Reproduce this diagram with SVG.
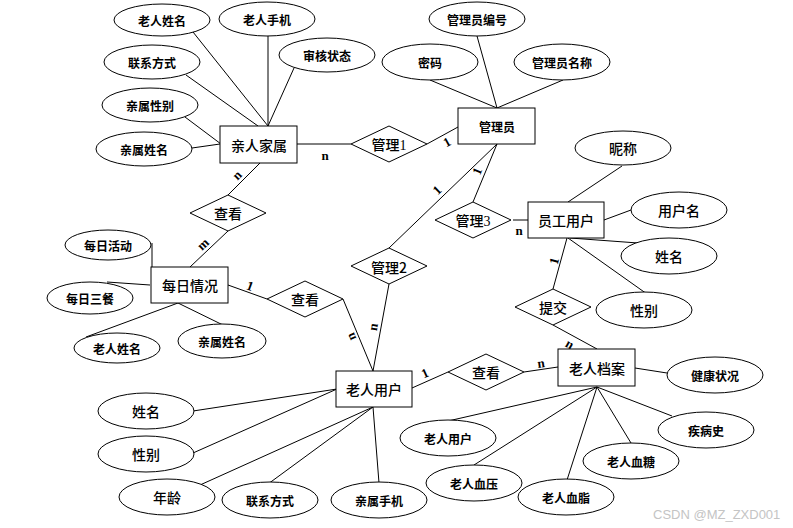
<svg xmlns="http://www.w3.org/2000/svg" width="793" height="528" viewBox="0 0 793 528">
<style>
  .shape { fill: #ffffff; stroke: #000000; stroke-width: 1; }
  .rel { fill: #ffffff; stroke: #000000; stroke-width: 1; }
  .conn line { stroke: #000000; stroke-width: 1; }
  text { fill: #000000; text-anchor: middle; dominant-baseline: central; }
  .attr { font-family: "Noto Sans CJK SC", "Liberation Sans", sans-serif; font-size: 12px; font-weight: bold; }
  .ent { font-family: "Noto Sans CJK SC", "Liberation Sans", sans-serif; font-size: 14px; font-weight: 500; }
  .relt { font-family: "Liberation Serif", "Noto Sans CJK SC", serif; font-size: 14px; font-weight: 500; }
  .card { font-family: "Liberation Serif", serif; font-size: 13px; font-weight: bold; }
  .wm { font-family: "Liberation Sans", sans-serif; font-size: 13px; fill: #c4c4c4; text-anchor: start; }
</style>
<rect width="793" height="528" fill="#ffffff"/>

<g id="connectors" class="conn">
  <line x1="193" y1="32" x2="268" y2="126"/>
  <line x1="268" y1="36" x2="268" y2="126"/>
  <line x1="294" y1="68" x2="268" y2="126"/>
  <line x1="186" y1="75" x2="258" y2="126"/>
  <line x1="185" y1="117" x2="221" y2="144"/>
  <line x1="192" y1="148" x2="220" y2="144"/>
  <line x1="297" y1="144" x2="351" y2="144"/>
  <line x1="260" y1="163" x2="228" y2="195"/>
  <line x1="477" y1="36" x2="497" y2="108"/>
  <line x1="430" y1="80" x2="497" y2="108"/>
  <line x1="563" y1="80" x2="497" y2="108"/>
  <line x1="427" y1="144" x2="458" y2="127"/>
  <line x1="497" y1="144" x2="473" y2="202"/>
  <line x1="497" y1="144" x2="389" y2="248"/>
  <line x1="513" y1="220" x2="528" y2="220"/>
  <line x1="568" y1="202" x2="622" y2="166"/>
  <line x1="604" y1="220" x2="631" y2="210"/>
  <line x1="570" y1="238" x2="638" y2="243"/>
  <line x1="568" y1="238" x2="647" y2="294"/>
  <line x1="567" y1="238" x2="553" y2="289"/>
  <line x1="553" y1="325" x2="597" y2="349"/>
  <line x1="228" y1="231" x2="190" y2="267"/>
  <line x1="152" y1="243" x2="152" y2="267"/>
  <line x1="107" y1="282" x2="150" y2="285"/>
  <line x1="86" y1="337" x2="178" y2="303"/>
  <line x1="178" y1="303" x2="225" y2="326"/>
  <line x1="228" y1="285" x2="267" y2="299"/>
  <line x1="343" y1="299" x2="373" y2="371"/>
  <line x1="389" y1="284" x2="373" y2="371"/>
  <line x1="193" y1="411" x2="337" y2="389"/>
  <line x1="193" y1="453" x2="337" y2="389"/>
  <line x1="200" y1="485" x2="373" y2="407"/>
  <line x1="268" y1="484" x2="373" y2="407"/>
  <line x1="379" y1="483" x2="373" y2="407"/>
  <line x1="412" y1="388" x2="448" y2="372"/>
  <line x1="524" y1="372" x2="558" y2="367"/>
  <line x1="635" y1="368" x2="667" y2="373"/>
  <line x1="597" y1="387" x2="672" y2="416"/>
  <line x1="597" y1="387" x2="631" y2="443"/>
  <line x1="597" y1="387" x2="567" y2="480"/>
  <line x1="597" y1="387" x2="474" y2="465"/>
  <line x1="597" y1="387" x2="448" y2="421"/>
  <g id="cardinalities">
    <text class="card" x="325" y="155">n</text>
    <text class="card" x="237" y="175" transform="rotate(-45 237 175)">n</text>
    <text class="card" x="203" y="244" transform="rotate(-43 203 244)">m</text>
    <text class="card" x="250" y="286" transform="rotate(20 250 286)">1</text>
    <text class="card" x="447" y="142" transform="rotate(-29 447 142)">1</text>
    <text class="card" x="477" y="171" transform="rotate(-68 477 171)">1</text>
    <text class="card" x="437" y="190" transform="rotate(-44 437 190)">1</text>
    <text class="card" x="519" y="230">n</text>
    <text class="card" x="554" y="261" transform="rotate(-75 554 261)">1</text>
    <text class="card" x="570" y="344" transform="rotate(30 570 344)">n</text>
    <text class="card" x="541" y="363" transform="rotate(-8 541 363)">n</text>
    <text class="card" x="425" y="373" transform="rotate(-24 425 373)">1</text>
    <text class="card" x="351" y="337" transform="rotate(-113 351 337)">n</text>
    <text class="card" x="373" y="327" transform="rotate(-80 373 327)">n</text>
  </g>
</g>

<g id="e-qinren">
  <rect class="shape" x="220" y="126" width="77" height="37"/>
  <text class="ent" x="259" y="145">亲人家属</text>
</g>
<g id="a-qr-laorenxingming"><ellipse class="shape" cx="162" cy="20" rx="48" ry="16"/><text class="attr" x="162" y="20">老人姓名</text></g>
<g id="a-qr-laorenshouji"><ellipse class="shape" cx="267" cy="19" rx="48" ry="17"/><text class="attr" x="267" y="19">老人手机</text></g>
<g id="a-qr-shenhe"><ellipse class="shape" cx="327" cy="55" rx="48" ry="17"/><text class="attr" x="327" y="55">审核状态</text></g>
<g id="a-qr-lianxi"><ellipse class="shape" cx="152" cy="62" rx="48" ry="17"/><text class="attr" x="152" y="62">联系方式</text></g>
<g id="a-qr-qinshuxingbie"><ellipse class="shape" cx="150" cy="105" rx="48" ry="17"/><text class="attr" x="150" y="105">亲属性别</text></g>
<g id="a-qr-qinshuxingming"><ellipse class="shape" cx="144" cy="149" rx="48" ry="17"/><text class="attr" x="144" y="149">亲属姓名</text></g>

<g id="e-admin">
  <rect class="shape" x="458" y="108" width="77" height="36"/>
  <text class="attr" x="497" y="126">管理员</text>
</g>
<g id="a-ad-bianhao"><ellipse class="shape" cx="477" cy="19" rx="48" ry="17"/><text class="attr" x="477" y="19">管理员编号</text></g>
<g id="a-ad-mima"><ellipse class="shape" cx="430" cy="62" rx="48" ry="18"/><text class="attr" x="430" y="62">密码</text></g>
<g id="a-ad-mingcheng"><ellipse class="shape" cx="562" cy="62" rx="48" ry="18"/><text class="attr" x="562" y="62">管理员名称</text></g>

<g id="e-staff">
  <rect class="shape" x="528" y="202" width="76" height="36"/>
  <text class="ent" x="566" y="220">员工用户</text>
</g>
<g id="a-st-nicheng"><ellipse class="shape" cx="623" cy="148" rx="48" ry="17"/><text class="ent" x="623" y="148">昵称</text></g>
<g id="a-st-yonghuming"><ellipse class="shape" cx="679" cy="210" rx="48" ry="18"/><text class="ent" x="679" y="210">用户名</text></g>
<g id="a-st-xingming"><ellipse class="shape" cx="669" cy="256" rx="48" ry="18"/><text class="ent" x="669" y="256">姓名</text></g>
<g id="a-st-xingbie"><ellipse class="shape" cx="644" cy="310" rx="48" ry="18"/><text class="ent" x="644" y="310">性别</text></g>

<g id="e-daily">
  <rect class="shape" x="151" y="267" width="77" height="36"/>
  <text class="ent" x="190" y="285">每日情况</text>
</g>
<g id="a-dl-huodong"><ellipse class="shape" cx="108" cy="245" rx="43" ry="15"/><text class="attr" x="108" y="245">每日活动</text></g>
<g id="a-dl-sancan"><ellipse class="shape" cx="90" cy="298" rx="43" ry="16"/><text class="attr" x="90" y="298">每日三餐</text></g>
<g id="a-dl-laorenxingming"><ellipse class="shape" cx="117" cy="348" rx="43" ry="15"/><text class="attr" x="117" y="348">老人姓名</text></g>
<g id="a-dl-qinshuxingming"><ellipse class="shape" cx="222" cy="341" rx="44" ry="17"/><text class="attr" x="222" y="341">亲属姓名</text></g>

<g id="e-elder">
  <rect class="shape" x="336" y="371" width="76" height="36"/>
  <text class="ent" x="374" y="389">老人用户</text>
</g>
<g id="a-el-xingming"><ellipse class="shape" cx="146" cy="411" rx="48" ry="18"/><text class="ent" x="146" y="411">姓名</text></g>
<g id="a-el-xingbie"><ellipse class="shape" cx="146" cy="454" rx="48" ry="18"/><text class="ent" x="146" y="454">性别</text></g>
<g id="a-el-nianling"><ellipse class="shape" cx="167" cy="497" rx="48" ry="18"/><text class="ent" x="167" y="497">年龄</text></g>
<g id="a-el-lianxi"><ellipse class="shape" cx="270" cy="500" rx="48" ry="18"/><text class="attr" x="270" y="500">联系方式</text></g>
<g id="a-el-qinshushouji"><ellipse class="shape" cx="379" cy="500" rx="48" ry="18"/><text class="attr" x="379" y="500">亲属手机</text></g>

<g id="e-record">
  <rect class="shape" x="558" y="349" width="77" height="37"/>
  <text class="ent" x="597" y="368">老人档案</text>
</g>
<g id="a-rc-jiankang"><ellipse class="shape" cx="715" cy="375" rx="48" ry="18"/><text class="attr" x="715" y="375">健康状况</text></g>
<g id="a-rc-jibing"><ellipse class="shape" cx="706" cy="430" rx="48" ry="18"/><text class="attr" x="706" y="430">疾病史</text></g>
<g id="a-rc-xuetang"><ellipse class="shape" cx="631" cy="461" rx="48" ry="18"/><text class="attr" x="631" y="461">老人血糖</text></g>
<g id="a-rc-xuezhi"><ellipse class="shape" cx="566" cy="497" rx="48" ry="18"/><text class="attr" x="566" y="497">老人血脂</text></g>
<g id="a-rc-xueya"><ellipse class="shape" cx="474" cy="483" rx="48" ry="18"/><text class="attr" x="474" y="483">老人血压</text></g>
<g id="a-rc-laorenyonghu"><ellipse class="shape" cx="448" cy="438" rx="48" ry="18"/><text class="attr" x="448" y="438">老人用户</text></g>

<g id="r-guanli1"><polygon class="rel" points="351,144 389,126 427,144 389,162"/><text class="relt" x="389" y="145">管理1</text></g>
<g id="r-guanli2"><polygon class="rel" points="351,266 389,248 427,266 389,284"/><text class="ent" x="389" y="267">管理2</text></g>
<g id="r-guanli3"><polygon class="rel" points="435,220 473,202 511,220 473,238"/><text class="relt" x="473" y="221">管理3</text></g>
<g id="r-chakan1"><polygon class="rel" points="190,213 228,195 266,213 228,231"/><text class="ent" x="228" y="213">查看</text></g>
<g id="r-chakan2"><polygon class="rel" points="267,299 305,281 343,299 305,317"/><text class="ent" x="305" y="299">查看</text></g>
<g id="r-chakan3"><polygon class="rel" points="448,372 486,354 524,372 486,390"/><text class="ent" x="486" y="372">查看</text></g>
<g id="r-tijiao"><polygon class="rel" points="515,307 553,289 591,307 553,325"/><text class="ent" x="553" y="307">提交</text></g>

<text class="wm" x="653" y="514">CSDN @MZ_ZXD001</text>
</svg>
